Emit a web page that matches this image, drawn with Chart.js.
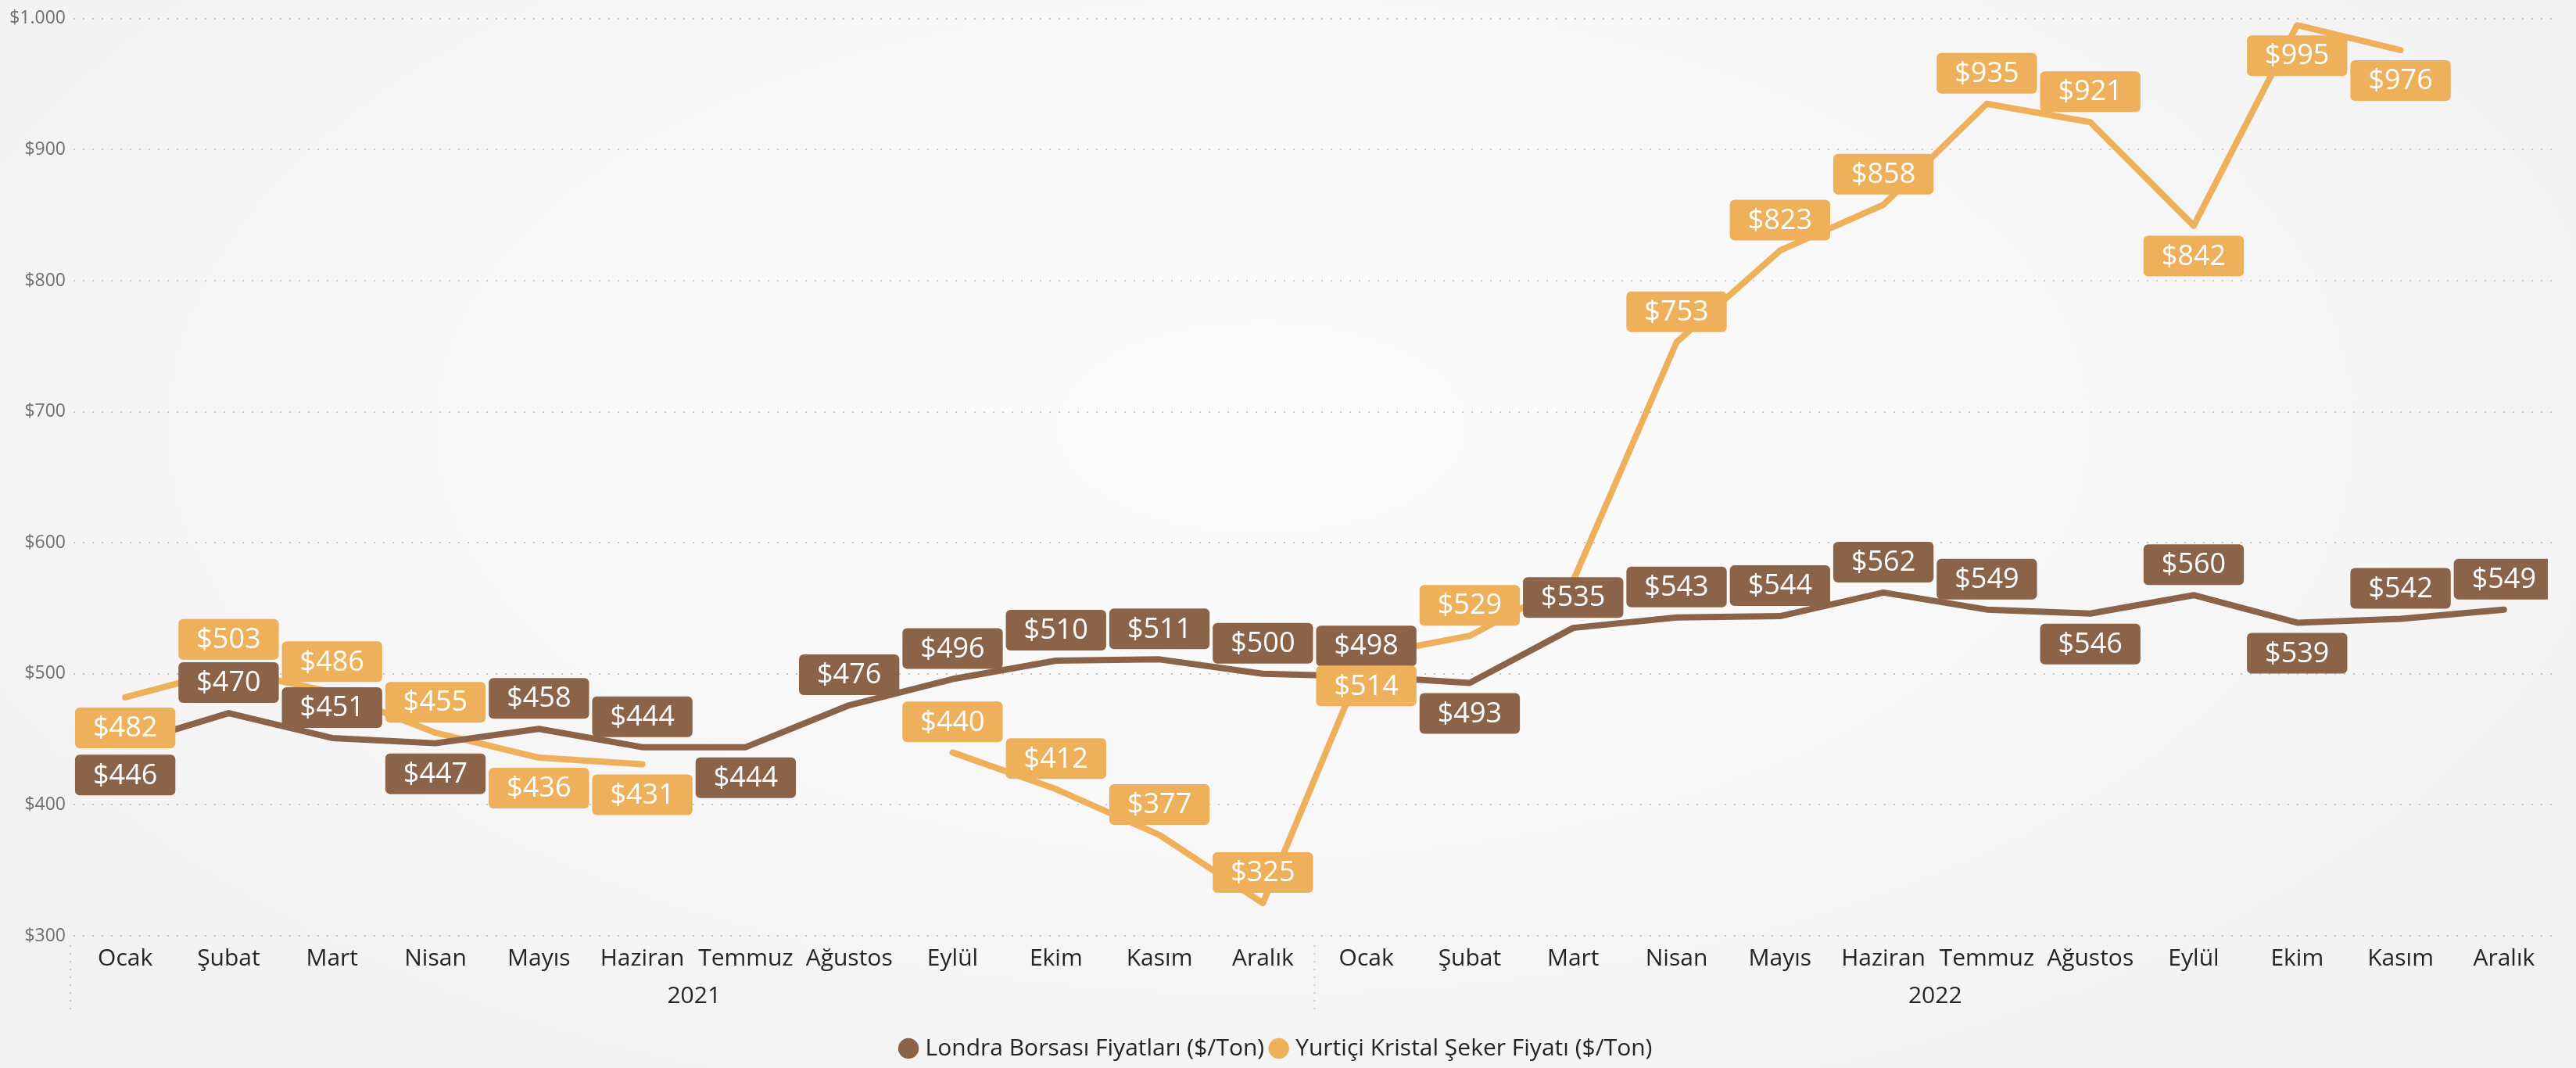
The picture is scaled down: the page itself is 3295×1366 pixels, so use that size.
<!DOCTYPE html>
<html>
<head>
<meta charset="utf-8">
<script src="https://cdn.jsdelivr.net/npm/chart.js@4.4.1/dist/chart.umd.min.js"></script>
<style>
  html, body { margin: 0; padding: 0; }
  body {
    width: 3295px; height: 1366px; overflow: hidden;
    background: radial-gradient(ellipse 60% 75% at 49% 40%, #fcfcfc 0%, #f8f8f8 45%, #f2f2f2 100%);
  }
  #wrap { position: relative; width: 3295px; height: 1366px; }
</style>
</head>
<body>
<div id="wrap"><canvas id="chart"></canvas></div>
<script>
const months = ["Ocak", "Şubat", "Mart", "Nisan", "Mayıs", "Haziran", "Temmuz", "Ağustos", "Eylül", "Ekim", "Kasım", "Aralık",
                "Ocak", "Şubat", "Mart", "Nisan", "Mayıs", "Haziran", "Temmuz", "Ağustos", "Eylül", "Ekim", "Kasım", "Aralık"];
const years = ["2021", "2022"];

// Londra Borsası Fiyatları ($/Ton)
const londra = [446, 470, 451, 447, 458, 444, 444, 476, 496, 510, 511, 500,
                498, 493, 535, 543, 544, 562, 549, 546, 560, 539, 542, 549];
// Yurtiçi Kristal Şeker Fiyatı ($/Ton)
const yurtici = [482, 503, 486, 455, 436, 431, null, null, 440, 412, 377, 325,
                 514, 529, 571, 753, 823, 858, 935, 921, 842, 995, 976, null];

// where the value boxes sit: a = above the point, b = below, "" = hidden
const londraLabelPos = ["b", "a", "a", "b", "a", "a", "b", "a", "a", "a", "a", "a",
                        "a", "b", "a", "a", "a", "a", "a", "b", "a", "b", "a", "a"];
const yurticiLabelPos = ["b", "a", "a", "a", "b", "b", "", "", "a", "a", "a", "a",
                         "b", "a", "", "a", "a", "a", "a", "a", "b", "b", "b", ""];

const brown = "#8a6349";
const orange = "#eeb05b";
const fontFamily = '"Open Sans", "Segoe UI", sans-serif';

const fmt = (v) => "$" + String(v).replace(/\B(?=(\d{3})+(?!\d))/g, ".");

// value boxes drawn on top of the lines
const boxLabels = {
  id: "boxLabels",
  afterDatasetsDraw(chart) {
    const { ctx, chartArea } = chart;
    ctx.save();
    ctx.beginPath();
    ctx.rect(chartArea.left, 0, chartArea.right - chartArea.left - 10, chart.height);
    ctx.clip();
    ctx.font = "36px " + fontFamily;
    ctx.textAlign = "center";
    ctx.textBaseline = "middle";
    chart.data.datasets.forEach((ds, di) => {
      const meta = chart.getDatasetMeta(di);
      ds.data.forEach((v, i) => {
        const pos = ds.labelPos[i];
        if (v == null || !pos) return;
        const pt = meta.data[i];
        const txt = fmt(v);
        const w = ctx.measureText(txt).width + 46;
        const h = 52;
        const cy = pt.y + (pos === "a" ? -39 : 39);
        ctx.fillStyle = ds.borderColor;
        ctx.beginPath();
        ctx.roundRect(pt.x - w / 2, cy - h / 2, w, h, 6);
        ctx.fill();
        ctx.fillStyle = "#ffffff";
        ctx.fillText(txt, pt.x, cy + 1);
      });
    });
    ctx.restore();
  },
};

// dotted separators between the year groups under the axis
const yearSep = {
  id: "yearSep",
  afterDraw(chart) {
    const { ctx, chartArea } = chart;
    const x = chart.scales.x;
    const step = x.getPixelForValue(1) - x.getPixelForValue(0);
    const perYear = months.length / years.length;
    const xs = [x.getPixelForValue(0) - step / 2 - 4];
    for (let k = 1; k < years.length; k++) {
      xs.push(x.getPixelForValue(k * perYear) - step / 2);
    }
    ctx.save();
    ctx.strokeStyle = "#c8c8c8";
    ctx.lineWidth = 2;
    ctx.setLineDash([2, 8]);
    xs.forEach((px) => {
      ctx.beginPath();
      ctx.moveTo(px, chartArea.bottom + 12);
      ctx.lineTo(px, chartArea.bottom + 98);
      ctx.stroke();
    });
    ctx.restore();
  },
};

new Chart(document.getElementById("chart"), {
  type: "line",
  data: {
    labels: months,
    datasets: [
      {
        label: "Londra Borsası Fiyatları ($/Ton)",
        data: londra,
        labelPos: londraLabelPos,
        borderColor: brown,
        backgroundColor: brown,
        borderWidth: 8,
        pointRadius: 0,
        borderCapStyle: "round",
        borderJoinStyle: "round",
        tension: 0,
      },
      {
        label: "Yurtiçi Kristal Şeker Fiyatı ($/Ton)",
        data: yurtici,
        labelPos: yurticiLabelPos,
        borderColor: orange,
        backgroundColor: orange,
        borderWidth: 8,
        pointRadius: 0,
        borderCapStyle: "round",
        borderJoinStyle: "round",
        spanGaps: false,
        tension: 0,
      },
    ],
  },
  options: {
    responsive: true,
    maintainAspectRatio: false,
    animation: false,
    layout: { padding: { top: 19, right: 26, left: 0, bottom: 0 } },
    plugins: {
      tooltip: { enabled: false },
      legend: {
        position: "bottom",
        labels: {
          usePointStyle: true,
          pointStyle: "circle",
          boxWidth: 13,
          boxHeight: 13,
          padding: 12,
          color: "#252423",
          font: { family: fontFamily, size: 30 },
        },
      },
    },
    scales: {
      x: {
        type: "category",
        offset: true,
        grid: { display: false, drawTicks: false },
        border: { display: false },
        ticks: {
          autoSkip: false,
          maxRotation: 0,
          padding: 11,
          color: "#252423",
          font: { family: fontFamily, size: 30 },
        },
        afterFit(s) { s.height = 52; },
      },
      x2: {
        type: "category",
        labels: years,
        position: "bottom",
        offset: true,
        grid: { display: false, drawTicks: false },
        border: { display: false },
        ticks: {
          maxRotation: 0,
          padding: 7,
          color: "#252423",
          font: { family: fontFamily, size: 30 },
        },
        afterFit(s) { s.height = 65; },
      },
      y: {
        min: 300,
        max: 1000,
        ticks: {
          stepSize: 100,
          padding: 10,
          color: "#6f6f6f",
          font: { family: fontFamily, size: 23 },
          callback: (v) => fmt(v),
        },
        grid: { color: "#c8c8c8", lineWidth: 2, drawTicks: false },
        border: { display: false, dash: [2, 10] },
        afterFit(s) { s.width = 94; },
      },
    },
  },
  plugins: [boxLabels, yearSep],
});
</script>
</body>
</html>
